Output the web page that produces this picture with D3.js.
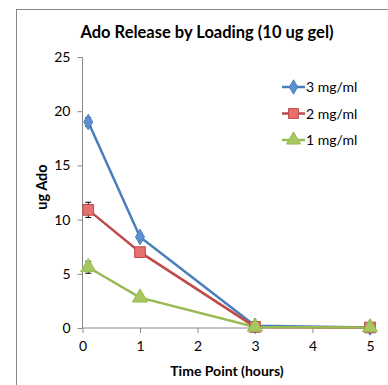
<!DOCTYPE html>
<html><head><meta charset="utf-8">
<script src="https://cdn.jsdelivr.net/npm/d3@7"></script>
<style>body{margin:0;background:#fff;overflow:hidden;} text{font-family:Lato,"Open Sans",sans-serif;}</style>
</head><body>
<svg id="c" width="388" height="385" style="display:block"></svg>
<script>
const timePoints = [0.1, 1, 3, 5];
const seriesNames = ["3 mg/ml", "2 mg/ml", "1 mg/ml"];
const values3 = [19.0, 8.4, 0.2, 0.05];
const values2 = [10.9, 7.0, 0.1, 0.05];
const values1 = [5.6, 2.8, 0.1, 0.05];
const err3 = [0.4, 0.1, 0.05, 0.02];
const err2 = [0.7, 0.1, 0.05, 0.02];
const err1 = [0.55, 0.1, 0.05, 0.02];
const xTicks = [0, 1, 2, 3, 4, 5];
const yTicks = [0, 5, 10, 15, 20, 25];
const colors = ["#4A7EBB", "#BE4B48", "#98B954"];
const fills = ["#5B8FD0", "#E5716E", "#A7C75F"];
const shapes = [d3.symbolDiamond, d3.symbolSquare, d3.symbolTriangle];
const sizes = [70, 115, 100];

const svg = d3.select("#c");
svg.append("rect").attr("x",16.5).attr("y",9.5).attr("width",500).attr("height",500)
  .attr("fill","#fff").attr("stroke","#888").attr("stroke-width",1);

const x = d3.scaleLinear().domain([0,5]).range([82.5,370]);
const y = d3.scaleLinear().domain([0,25]).range([328,57]);

svg.append("text").attr("x",207).attr("y",38).attr("text-anchor","middle")
  .attr("font-weight","bold").attr("font-size",16.5).text("Ado Release by Loading (10 ug gel)");

const ya = svg.append("g").attr("transform","translate(82.5,0)")
  .call(d3.axisLeft(y).tickValues(yTicks).tickSize(5).tickPadding(7).tickFormat(d3.format("d")));
const xa = svg.append("g").attr("transform","translate(0,328)")
  .call(d3.axisBottom(x).tickValues(xTicks).tickSize(5).tickPadding(8).tickFormat(d3.format("d")));
[ya,xa].forEach(a=>{
  a.selectAll("path,line").attr("stroke","#888");
  a.selectAll("text").attr("font-size",14).attr("fill","#000").style("font-family","Lato, 'Open Sans', sans-serif");
  a.select(".domain").attr("d", a===ya ? "M0,328V57" : "M82.5,0H370");
});

svg.append("text").attr("x",227).attr("y",376).attr("text-anchor","middle")
  .attr("font-weight","bold").attr("font-size",14).text("Time Point (hours)");
svg.append("text").attr("transform","translate(47,187) rotate(-90)").attr("text-anchor","middle")
  .attr("font-weight","bold").attr("font-size",14.5).text("ug Ado");

const allVals = [values3, values2, values1];
const allErr = [err3, err2, err1];
const line = d3.line().x(d=>x(d[0])).y(d=>y(d[1]));

allVals.forEach((vals,i)=>{
  const pts = timePoints.map((t,j)=>[t, vals[j], allErr[i][j]]);
  svg.append("path").datum(pts).attr("d",line).attr("fill","none")
    .attr("stroke",colors[i]).attr("stroke-width",2.5);
});
allVals.forEach((vals,i)=>{
  const pts = timePoints.map((t,j)=>[t, vals[j], allErr[i][j]]);
  const g = svg.append("g");
  pts.forEach(p=>{
    if (p[2] > 0.2) {
      const x0 = x(p[0]), y1 = y(p[1]+p[2]), y2 = y(p[1]-p[2]);
      g.append("line").attr("x1",x0).attr("x2",x0).attr("y1",y1).attr("y2",y2).attr("stroke","#000").attr("stroke-width",1);
      g.append("line").attr("x1",x0-3).attr("x2",x0+3).attr("y1",y1).attr("y2",y1).attr("stroke","#000").attr("stroke-width",1);
      g.append("line").attr("x1",x0-3).attr("x2",x0+3).attr("y1",y2).attr("y2",y2).attr("stroke","#000").attr("stroke-width",1);
    }
  });
  g.selectAll("path.m").data(pts).join("path").attr("class","m")
    .attr("d",d3.symbol().type(shapes[i]).size(sizes[i]))
    .attr("transform",d=>`translate(${x(d[0])},${y(d[1])})`)
    .attr("fill",fills[i]).attr("stroke",colors[i]).attr("stroke-width",1);
});

const leg = svg.append("g");
seriesNames.forEach((n,i)=>{
  const yy = 87 + i*26.5;
  leg.append("line").attr("x1",282).attr("x2",305).attr("y1",yy).attr("y2",yy).attr("stroke",colors[i]).attr("stroke-width",2.5);
  leg.append("path").attr("d",d3.symbol().type(shapes[i]).size(sizes[i]*0.85))
    .attr("transform",`translate(293.5,${yy})`).attr("fill",fills[i]).attr("stroke",colors[i]);
  leg.append("text").attr("x",306).attr("y",yy+5).attr("font-size",14).text(n);
});
</script>
</body></html>
